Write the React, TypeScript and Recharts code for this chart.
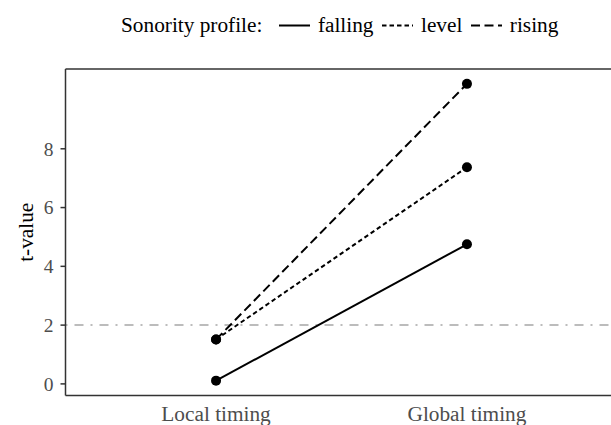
import { LineChart, Line, XAxis, YAxis, ReferenceLine } from 'recharts';

const categories = ['Local timing', 'Global timing'];
const falling = [0.11, 4.75];
const level = [1.51, 7.37];
const rising = [1.51, 10.21];
const yTicks = [0, 2, 4, 6, 8];
const yDomain: [number, number] = [-0.395, 10.715];
const threshold = 2;

const data = categories.map((c, i) => ({
  x: i,
  name: c,
  falling: falling[i],
  level: level[i],
  rising: rising[i],
}));

const serif = "'Liberation Serif', 'Times New Roman', serif";
const axisColor = '#333333';
const baseSize = 21.3;

const series = [
  { key: 'falling', dash: undefined as string | undefined },
  { key: 'level', dash: '4.5 3' },
  { key: 'rising', dash: '9 4.5' },
];

function YTitle(props: any) {
  const vb = props.viewBox || { x: 0, y: 0, height: 0 };
  const cy = vb.y + vb.height / 2;
  return (
    <text
      transform={`translate(${vb.x + 33}, ${cy}) rotate(-90)`}
      textAnchor="middle"
      fontSize={baseSize}
      fontFamily={serif}
      fill="#000"
    >
      t-value
    </text>
  );
}

function LegendKey({ dash }: { dash?: string }) {
  return (
    <svg width={31} height={24} style={{ display: 'block' }}>
      <line x1={0} x2={31} y1={12.5} y2={12.5} stroke="#000" strokeWidth={2} strokeDasharray={dash} />
    </svg>
  );
}

export default function App() {
  return (
    <div
      style={{
        position: 'absolute',
        left: 0,
        top: 0,
        width: 611,
        height: 425,
        overflow: 'hidden',
        background: '#fff',
      }}
    >
      <div
        style={{
          position: 'absolute',
          left: 121,
          top: 13,
          height: 24,
          display: 'flex',
          alignItems: 'center',
          fontFamily: serif,
          fontSize: baseSize,
          lineHeight: '24px',
          color: '#000',
          whiteSpace: 'nowrap',
        }}
      >
        <span style={{ marginRight: 17 }}>Sonority profile:</span>
        {series.map((s) => (
          <span key={s.key} style={{ display: 'flex', alignItems: 'center', marginRight: 9 }}>
            <LegendKey dash={s.dash} />
            <span style={{ marginLeft: 7.5 }}>{s.key}</span>
          </span>
        ))}
      </div>
      <LineChart
        width={620}
        height={425}
        data={data}
        margin={{ top: 69, right: 2.5, left: 0, bottom: 0 }}
        style={{ position: 'absolute', left: 0, top: 0 }}
      >
        <XAxis
          dataKey="x"
          type="number"
          domain={[-0.6, 1.6]}
          ticks={[0, 1]}
          allowDataOverflow
          tickFormatter={(v) => categories[v] ?? ''}
          height={29.5}
          tickLine={false}
          tickSize={0}
          tickMargin={10}
          axisLine={{ stroke: axisColor, strokeWidth: 1.5 }}
          tick={{ fill: '#4d4d4d', fontSize: baseSize, fontFamily: serif }}
        />
        <YAxis
          type="number"
          domain={yDomain}
          ticks={yTicks}
          allowDataOverflow
          width={65.5}
          tickSize={5}
          tickMargin={7}
          axisLine={{ stroke: axisColor, strokeWidth: 1.5 }}
          tickLine={{ stroke: axisColor, strokeWidth: 1.5 }}
          tick={{ fill: '#4d4d4d', fontSize: 19.5, fontFamily: serif }}
          label={{ content: YTitle }}
        />
        <ReferenceLine y={yDomain[1]} stroke={axisColor} strokeWidth={1.5} />
        <ReferenceLine y={threshold} stroke="#a6a6a6" strokeWidth={1.5} strokeDasharray="2 7 9 7" />
        {series.map((s) => (
          <Line
            key={s.key}
            dataKey={s.key}
            type="linear"
            stroke="#000"
            strokeWidth={2}
            strokeDasharray={s.dash}
            dot={{ r: 5, fill: '#000', stroke: '#000', strokeWidth: 0 }}
            activeDot={false}
            isAnimationActive={false}
          />
        ))}
      </LineChart>
    </div>
  );
}
